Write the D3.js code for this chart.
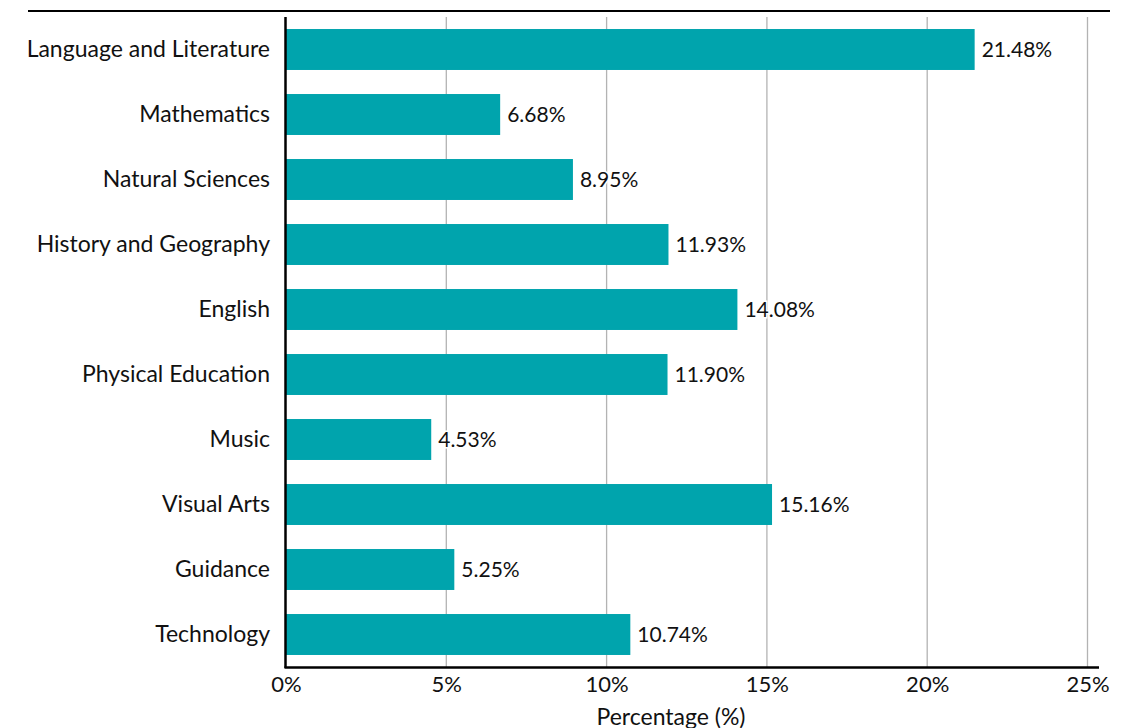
<!DOCTYPE html>
<html>
<head>
<meta charset="utf-8">
<script src="https://cdn.jsdelivr.net/npm/d3@7"></script>
<style>
  body { margin: 0; background: #fff; }
  svg text { font-family: Lato, "Noto Sans", sans-serif; fill: #111; }
</style>
</head>
<body>
<div id="chart"></div>
<script>
// subjects, top to bottom
const subjects = ["Language and Literature", "Mathematics", "Natural Sciences", "History and Geography",
    "English", "Physical Education", "Music", "Visual Arts", "Guidance", "Technology"];
const shares = [21.48, 6.68, 8.95, 11.93, 14.08, 11.90, 4.53, 15.16, 5.25, 10.74];
const xTicks = [0, 5, 10, 15, 20, 25];

const width = 1133, height = 728;
const plotLeft = 286, plotRight = 1087.5, plotTop = 17, plotBottom = 667;

const svg = d3.select("#chart").append("svg")
    .attr("width", width)
    .attr("height", height);

const x = d3.scaleLinear().domain([0, 25]).range([plotLeft, plotRight]);
const y = d3.scaleBand().domain(subjects).range([plotTop, plotBottom])
    .paddingInner(0.37).paddingOuter(0.185);

// top rule
svg.append("line")
    .attr("x1", 28).attr("x2", 1110)
    .attr("y1", 11).attr("y2", 11)
    .attr("stroke", "#000").attr("stroke-width", 2);

// vertical gridlines
svg.append("g")
    .selectAll("line")
    .data(xTicks.slice(1))
    .join("line")
    .attr("x1", d => x(d)).attr("x2", d => x(d))
    .attr("y1", plotTop).attr("y2", plotBottom)
    .attr("stroke", "#b3b3b3")
    .attr("stroke-width", 1.3);

// bars
svg.append("g")
    .selectAll("rect")
    .data(shares)
    .join("rect")
    .attr("x", x(0))
    .attr("y", (d, i) => y(subjects[i]))
    .attr("width", d => x(d) - x(0))
    .attr("height", y.bandwidth())
    .attr("fill", "#00a4ad");

// value labels with white halo
svg.append("g")
    .selectAll("text")
    .data(shares)
    .join("text")
    .attr("x", d => x(d) + 7)
    .attr("y", (d, i) => y(subjects[i]) + y.bandwidth() / 2)
    .attr("dy", "0.36em")
    .attr("font-size", 21)
    .attr("stroke", "#fff")
    .attr("stroke-width", 3)
    .attr("paint-order", "stroke")
    .text(d => d.toFixed(2) + "%");

// y axis (labels only + spine)
const yAxis = svg.append("g")
    .attr("transform", `translate(${plotLeft},0)`)
    .call(d3.axisLeft(y).tickSize(0).tickPadding(16));
yAxis.select(".domain").remove();
yAxis.selectAll("text")
    .attr("font-size", 23)
    .style("font-family", "Lato, 'Noto Sans', sans-serif")
    .attr("fill", "#111");

svg.append("line")
    .attr("x1", plotLeft - 0.5).attr("x2", plotLeft - 0.5)
    .attr("y1", plotTop).attr("y2", plotBottom + 1)
    .attr("stroke", "#000").attr("stroke-width", 2.5);

// x axis
const xAxis = svg.append("g")
    .attr("transform", `translate(0,${plotBottom})`)
    .call(d3.axisBottom(x).tickValues(xTicks).tickSize(0).tickPadding(9)
        .tickFormat(d => d + "%"));
xAxis.select(".domain").remove();
xAxis.selectAll("text")
    .attr("font-size", 22)
    .style("font-family", "Lato, 'Noto Sans', sans-serif")
    .attr("fill", "#111");

svg.append("line")
    .attr("x1", plotLeft - 1.5).attr("x2", 1099)
    .attr("y1", plotBottom + 0.5).attr("y2", plotBottom + 0.5)
    .attr("stroke", "#000").attr("stroke-width", 2.5);

// axis title
svg.append("text")
    .attr("x", 671)
    .attr("y", 725)
    .attr("text-anchor", "middle")
    .attr("font-size", 23)
    .text("Percentage (%)");
</script>
</body>
</html>
